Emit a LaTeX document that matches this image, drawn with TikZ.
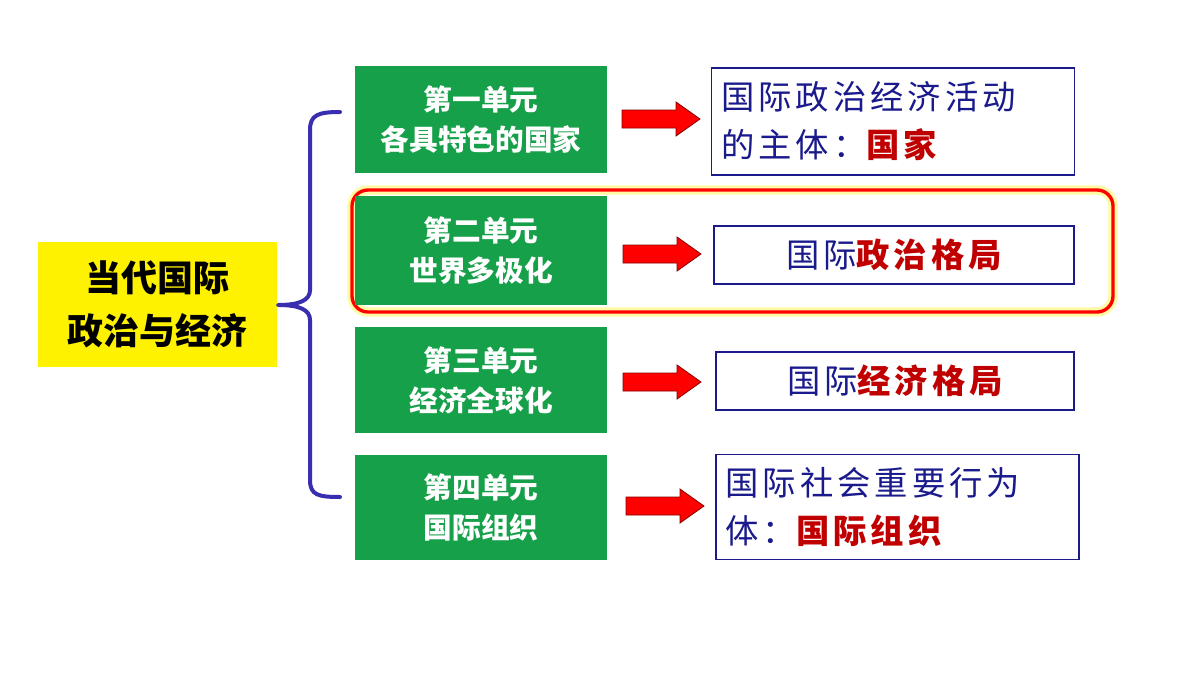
\documentclass[tikz,border=0pt]{standalone}
\usepackage{fontspec}
\newfontfamily\cjk{Noto Sans CJK SC}
\newfontfamily\cjkw[LetterSpace=12]{Noto Sans CJK SC}
\usetikzlibrary{shadows}
\definecolor{gr}{HTML}{17A04A}
\definecolor{navy}{HTML}{1A1A8C}
\definecolor{dred}{HTML}{C00000}
\definecolor{brc}{HTML}{3A2EB0}
\begin{document}
\begin{tikzpicture}[x=0.75pt,y=-0.75pt,
  gbox/.style={fill=gr,draw=none,text=white,font=\cjk\bfseries\fontsize{21.5}{30}\selectfont,align=center,minimum width=189pt,inner sep=0},
  rbox/.style={draw=navy,line width=1.2pt,fill=white,text=navy,font=\cjkw\fontsize{25}{36}\selectfont,inner sep=0},
  rarr/.style={fill=red,draw=dred!70!black,line width=0.6pt}]
\useasboundingbox (0,0) rectangle (1200,675);
\fill[white] (0,0) rectangle (1200,675);
% yellow
\node[fill=yellow,minimum width=179pt,minimum height=94pt,align=center,font=\cjk\bfseries\fontsize{27}{40}\selectfont] (main) at (157.5,304.5) {当代国际\\政治与经济};
% brace
\coordinate (tip) at (278,305);
\draw[brc,line width=3pt,line cap=round,line join=round] (340,112) .. controls (318,112) and (310,115) .. (310,130) -- (310,290) .. controls (310,300) and (300,305) .. (tip) .. controls (300,305) and (310,310) .. (310,320) -- (310,480) .. controls (310,495) and (318,497) .. (340,497);
% highlight
\draw[yellow!60,line width=7pt,rounded corners=12pt,opacity=0.6] (352,190) rectangle (1113,312);
\draw[red,line width=2.5pt,rounded corners=12pt] (352,190) rectangle (1113,312);
% green boxes
\node[gbox,minimum height=80pt] (g1) at (481,119.5) {第一单元\\各具特色的国家};
\node[gbox,minimum height=82pt] (g2) at (481,250.5) {第二单元\\世界多极化};
\node[gbox,minimum height=80pt] (g3) at (481,380) {第三单元\\经济全球化};
\node[gbox,minimum height=79pt] (g4) at (481,507.5) {第四单元\\国际组织};
% arrows
\foreach \n/\x/\y in {1/622/119,2/623/254,3/623/382,4/626/506}{
  \coordinate (a\n) at (\x,\y);
  \draw[rarr] (a\n) ++(0,-9) -- ++(54,0) -- ++(0,-8) -- ++(24,17) -- ++(-24,17) -- ++(0,-8) -- ++(-54,0) -- cycle;
}
% right boxes
\node[rbox,minimum width=272pt,minimum height=80pt,align=left,text width=258pt] (r1) at (893,121.5) {国际政治经济活动\\的主体：\textcolor{dred}{\bfseries 国家}};
\node[rbox,minimum width=270pt,minimum height=43.5pt] (r2) at (894,255) {国际\textcolor{dred}{\bfseries 政治格局}};
\node[rbox,minimum width=268.5pt,minimum height=43.5pt] (r3) at (895,381) {国际\textcolor{dred}{\bfseries 经济格局}};
\node[rbox,minimum width=272pt,minimum height=79pt,align=left,text width=258pt] (r4) at (897.5,507) {国际社会重要行为\\体：\textcolor{dred}{\bfseries 国际组织}};
\end{tikzpicture}
\end{document}
